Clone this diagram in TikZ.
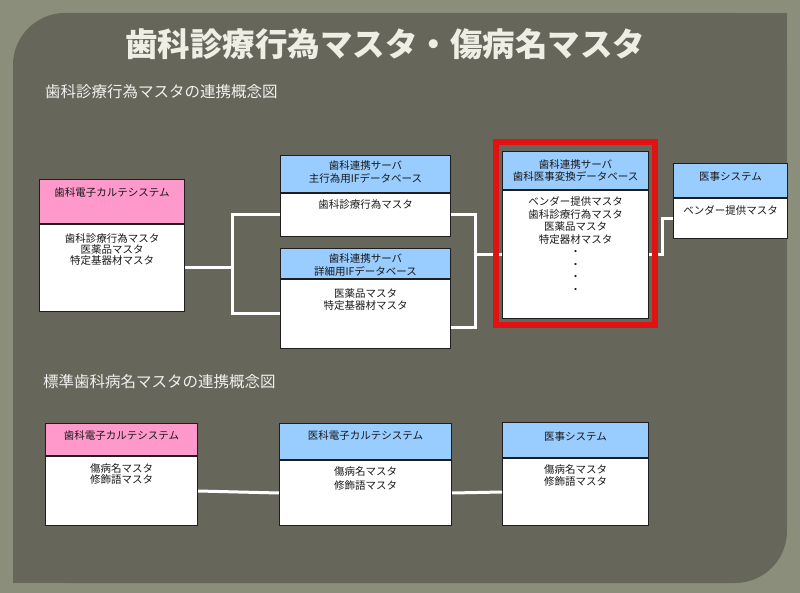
\documentclass[tikz,border=0pt]{standalone}
\usepackage{fontspec}
\newfontfamily\jpfont{Noto Sans CJK JP}
\usetikzlibrary{fit}
\definecolor{outerbg}{RGB}{138,142,122}
\definecolor{panelbg}{RGB}{102,103,90}
\definecolor{pinkhd}{RGB}{255,153,204}
\definecolor{bluehd}{RGB}{153,204,255}
\definecolor{boxline}{RGB}{30,30,30}
\definecolor{redframe}{RGB}{226,18,18}
\definecolor{titletext}{RGB}{238,238,228}
\tikzset{
  hd/.style={draw=boxline, line width=1pt, fill=#1, anchor=north west, inner sep=0pt},
  bd/.style={draw=boxline, line width=1pt, fill=white, anchor=north west, inner sep=0pt},
  txt/.style={anchor=north, inner sep=0pt, yshift=-#1, align=center, text=black!90,
    font=\jpfont\fontsize{10.5pt}{12.5pt}\selectfont},
  sect/.style={anchor=west, inner sep=0pt, text=white!94!black,
    font=\jpfont\fontsize{15.5pt}{17pt}\selectfont},
  link/.style={draw=white, line width=3pt}
}

\begin{document}
\begin{tikzpicture}[x=1pt,y=-1pt]
        \useasboundingbox (0,0) rectangle (800,593);
        \fill[outerbg] (0,0) rectangle (800,593);
        \fill[panelbg, rounded corners=52pt] (13,13) rectangle (787,583);
        \fill[panelbg] (700,13) rectangle (787,100);
        \fill[panelbg] (13,500) rectangle (100,583);

        \node[text=titletext, font=\jpfont\bfseries\fontsize{32.5pt}{34pt}\selectfont] (title) at (385,44) {歯科診療行為マスタ・傷病名マスタ};
        \node[sect] (sec1) at (45,92) {歯科診療行為マスタの連携概念図};
        \node[sect] (sec2) at (43,382) {標準歯科病名マスタの連携概念図};

        % upper diagram
        \node[hd=pinkhd, minimum width=145pt, minimum height=44pt, label={[txt=8pt]north:歯科電子カルテシステム}] (dkh) at (39,179) {};
        \node[bd, minimum width=145pt, minimum height=87pt, label={[txt=9.5pt]north:{歯科診療行為マスタ\\[-1.7pt]医薬品マスタ\\[-1.7pt]特定基器材マスタ}}] (dkb) at (dkh.south west) {};
        \node[hd=bluehd, minimum width=170pt, minimum height=37pt, label={[txt=5.5pt]north:{歯科連携サーバ\\[0.8pt]主行為用IFデータベース}}] (shuh) at (280,155) {};
        \node[bd, minimum width=170pt, minimum height=43pt, label={[txt=6pt]north:歯科診療行為マスタ}] (shub) at (shuh.south west) {};
        \node[hd=bluehd, minimum width=170pt, minimum height=30pt, label={[txt=5.5pt]north:{歯科連携サーバ\\詳細用IFデータベース}}] (shoh) at (280,248) {};
        \node[bd, minimum width=170pt, minimum height=69pt, label={[txt=9pt]north:{医薬品マスタ\\特定基器材マスタ}}] (shob) at (shoh.south west) {};
        \node[hd=bluehd, minimum width=146pt, minimum height=38pt, label={[txt=8pt]north:{歯科連携サーバ\\歯科医事変換データベース}}] (henh) at (502,151) {};
        \node[bd, minimum width=146pt, minimum height=128pt, label={[txt=6.5pt]north:{ベンダー提供マスタ\\歯科診療行為マスタ\\医薬品マスタ\\特定器材マスタ\\・\\・\\・\\・}}] (henb) at (henh.south west) {};
        \node[hd=bluehd, minimum width=114pt, minimum height=34pt, label={[txt=8pt]north:医事システム}] (ijh) at (673,163) {};
        \node[bd, minimum width=114pt, minimum height=40pt, label={[txt=7pt]north:ベンダー提供マスタ}] (ijb) at (ijh.south west) {};

        % lower diagram
        \node[hd=pinkhd, minimum width=152pt, minimum height=32pt, label={[txt=7.5pt]north:歯科電子カルテシステム}] (bdkh) at (45,423) {};
        \node[bd, minimum width=152pt, minimum height=69pt, label={[txt=7pt]north:{傷病名マスタ\\[-0.8pt]修飾語マスタ}}] (bdkb) at (bdkh.south west) {};
        \node[hd=bluehd, minimum width=172pt, minimum height=36pt, label={[txt=7.5pt]north:医科電子カルテシステム}] (bikh) at (279,423) {};
        \node[bd, minimum width=172pt, minimum height=65pt, label={[txt=6pt]north:{傷病名マスタ\\[1.5pt]修飾語マスタ}}] (bikb) at (bikh.south west) {};
        \node[hd=bluehd, minimum width=146pt, minimum height=35pt, label={[txt=9pt]north:医事システム}] (bijh) at (502,422) {};
        \node[bd, minimum width=146pt, minimum height=67pt, label={[txt=6.5pt]north:{傷病名マスタ\\[-0.8pt]修飾語マスタ}}] (bijb) at (bijh.south west) {};

        \coordinate (jL) at (232,0);
        \coordinate (jR) at (475,0);
        \coordinate (jC) at (662,0);
        \draw[link] (dkb.east) -- (dkb.east -| jL);
        \draw[link] (shub.west) -| (jL |- shob.west) -- (shob.west);
        \draw[link] (shub.east) -| ([yshift=-14pt]shob.east -| jR) -- ([yshift=-14pt]shob.east);
        \draw[link] (jR |- henb.west) -- (henb.west);
        \draw[link] (henb.east) -- (henb.east -| jC) |- (ijb.west);
        \draw[link] (bdkb.east) -- (bikb.west);
        \draw[link] (bikb.east) -- (bijb.west);

        \node[fit=(henh)(henb), inner xsep=6pt, inner ysep=7.4pt, yshift=1.6pt, draw=redframe, line width=6pt] (frame) {};
\end{tikzpicture}
\end{document}
